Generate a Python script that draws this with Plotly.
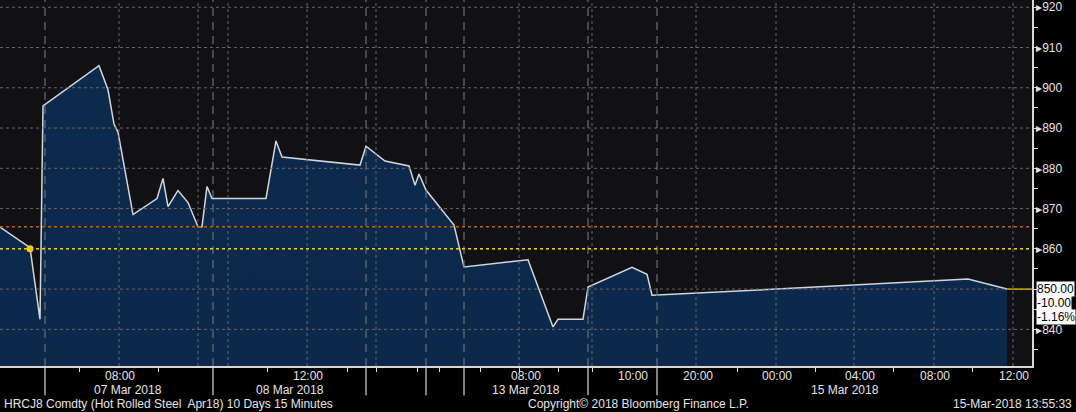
import plotly.graph_objects as go

# ---- data (x = compressed 15-minute bar index, y = price) ----
bar_pos = [0, 6, 8, 8.6, 19.8, 21.6, 22.8, 23.6, 26.6, 31.4,
           32.6, 33.6, 35.6, 37.6, 39.6, 40.4, 41.4, 42.4, 53.2, 55.2,
           56.4, 72, 73.2, 77, 81.8, 83, 83.8, 85.2, 90.8, 92.8,
           105.6, 110.6, 111.6, 116.6, 117.6, 126.4, 129.4, 130.4, 155.4, 193.6,
           201.4]
prices = [865.4, 860.3, 842.5, 895.5, 905.5, 899.5, 891, 889, 868.5, 872.5,
          877.5, 870.5, 874.5, 871.5, 865.5, 865.5, 875.5, 872.5, 872.5, 886.8,
          882.8, 880.8, 885.5, 881.8, 880.6, 875.8, 878.6, 874.6, 865.9, 855.5,
          857.3, 840.6, 842.5, 842.5, 850.5, 855.4, 853.7, 848.5, 850.0, 852.5,
          850.0]

prev_close = 860
upper_level = 865.5
last_price = 850.00
net_change = "-10.00"
pct_change = "-1.16%"

time_tick_pos = [24, 61.6, 105.2, 126.6, 139.6, 155.4, 172, 187, 202.8]
time_tick_text = ["08:00", "12:00", "08:00", "10:00", "20:00", "00:00", "04:00", "08:00", "12:00"]
date_tick_pos = [25.6, 58, 105.2, 169]
date_tick_text = ["07 Mar 2018", "08 Mar 2018", "13 Mar 2018", "15 Mar 2018"]
minor_tick_pos = [15.8, 31.6, 53.4, 69.4, 75.2, 83.4, 87.8, 96, 103.8, 111.6,
                  118.4, 147.4, 163, 178.6, 194.4]
grid_pos = [23.8, 39.6, 45.6, 61.4, 75.2, 103.8, 118.4, 139.2, 155.2, 170.8, 186.8, 202.6]
session_breaks = [9, 42.6, 73.2, 85.2, 92.8, 117.6, 131.4]

y_ticks = [840, 850, 860, 870, 880, 890, 900, 910, 920]

X_MAX = 206.4
FONT = "Liberation Sans"
TXT = "#e4e4e4"

fig = go.Figure()

fig.add_trace(go.Scatter(
    x=bar_pos, y=prices, mode="lines",
    line=dict(color="#d2d6dc", width=1.5),
    fill="tozeroy",
    fillgradient=dict(type="vertical",
                      colorscale=[[0, "#071c37"], [1, "#0c2a4c"]]),
    hoverinfo="skip", showlegend=False))

fig.add_trace(go.Scatter(
    x=[bar_pos[1]], y=[prev_close], mode="markers",
    marker=dict(color="#f5d000", size=7, symbol="circle"),
    hoverinfo="skip", showlegend=False))

shapes = []
for v in y_ticks:
    shapes.append(dict(type="line", xref="paper", x0=0, x1=1, yref="y", y0=v, y1=v,
                       line=dict(color="#66666a", width=1, dash="dot"), layer="above"))
for p in grid_pos:
    shapes.append(dict(type="line", xref="x", x0=p, x1=p, yref="paper", y0=0, y1=1,
                       line=dict(color="#66666a", width=1, dash="dot"), layer="above"))
for p in session_breaks:
    shapes.append(dict(type="line", xref="x", x0=p, x1=p, yref="paper", y0=0, y1=1,
                       line=dict(color="#6e6e72", width=1.2, dash="8px,6px"), layer="above"))
    shapes.append(dict(type="line", xref="x", x0=p, x1=p, yref="paper", y0=0, y1=-0.08,
                       line=dict(color="#d8d8d8", width=1.2)))
shapes.append(dict(type="line", xref="paper", x0=0, x1=1, yref="y", y0=upper_level, y1=upper_level,
                   line=dict(color="#b8620a", width=1.5, dash="dot"), layer="above"))
shapes.append(dict(type="line", xref="paper", x0=0, x1=1, yref="y", y0=prev_close, y1=prev_close,
                   line=dict(color="#f0cc00", width=1.5, dash="dot"), layer="above"))
shapes.append(dict(type="line", xref="x", x0=bar_pos[-1], x1=X_MAX, yref="y", y0=last_price, y1=last_price,
                   line=dict(color="#c9a400", width=1.5), layer="above"))

annotations = []
for p, t in zip(time_tick_pos, time_tick_text):
    annotations.append(dict(x=p, xref="x", y=0, yref="paper", yshift=-10, text=t,
                            showarrow=False, xanchor="center", yanchor="middle",
                            font=dict(family=FONT, size=12, color=TXT)))
for p, t in zip(date_tick_pos, date_tick_text):
    annotations.append(dict(x=p, xref="x", y=0, yref="paper", yshift=-24, text=t,
                            showarrow=False, xanchor="center", yanchor="middle",
                            font=dict(family=FONT, size=12, color=TXT)))
for i, t in enumerate([f"{last_price:.2f}", net_change, pct_change]):
    annotations.append(dict(x=1, xref="paper", y=last_price, yref="y", xshift=4, yshift=-14 * i,
                            text=t, showarrow=False, xanchor="left", yanchor="middle",
                            bgcolor="#ffffff", borderpad=0,
                            font=dict(family=FONT, size=12, color="#000000")))
annotations.append(dict(x=0, xref="paper", xshift=2, y=0, yref="paper", yshift=-38,
                        text="HRCJ8 Comdty (Hot Rolled Steel  Apr18) 10 Days 15 Minutes",
                        showarrow=False, xanchor="left", yanchor="middle",
                        font=dict(family=FONT, size=12, color=TXT)))
annotations.append(dict(x=638 / 1032, xref="paper", y=0, yref="paper", yshift=-38,
                        text="Copyright© 2018 Bloomberg Finance L.P.",
                        showarrow=False, xanchor="center", yanchor="middle",
                        font=dict(family=FONT, size=12, color=TXT)))
annotations.append(dict(x=1, xref="paper", xshift=42, y=0, yref="paper", yshift=-38,
                        text="15-Mar-2018 13:55:33",
                        showarrow=False, xanchor="right", yanchor="middle",
                        font=dict(family=FONT, size=12, color=TXT)))

y_tick_text = ["" if v == last_price else "\u25b8" + str(v) for v in y_ticks]

fig.update_layout(
    width=1076, height=412,
    margin=dict(l=0, r=44, t=0, b=46, autoexpand=False),
    paper_bgcolor="#000000",
    plot_bgcolor="#111114",
    font=dict(family=FONT, size=12, color=TXT),
    shapes=shapes,
    annotations=annotations,
    xaxis=dict(range=[0, X_MAX], showgrid=False, zeroline=False, automargin=False,
               showline=True, linecolor="#d8d8d8", linewidth=1.5,
               tickvals=minor_tick_pos, ticktext=[""] * len(minor_tick_pos),
               ticks="outside", ticklen=4, tickcolor="#d8d8d8"),
    yaxis=dict(range=[830.9, 921.8], side="right", showgrid=False, zeroline=False, automargin=False,
               showline=True, linecolor="#d8d8d8", linewidth=1.5,
               tickvals=y_ticks, ticktext=y_tick_text,
               ticks="", ticklabelstandoff=0,
               tickfont=dict(family=FONT, size=12, color=TXT),
               minor=dict(dtick=5, tick0=835, ticks="outside", ticklen=4, tickcolor="#d8d8d8")),
)

fig.write_html("out.html", config={"displayModeBar": False},
               post_script="document.body.style.margin='0';document.body.style.background='#000';")
